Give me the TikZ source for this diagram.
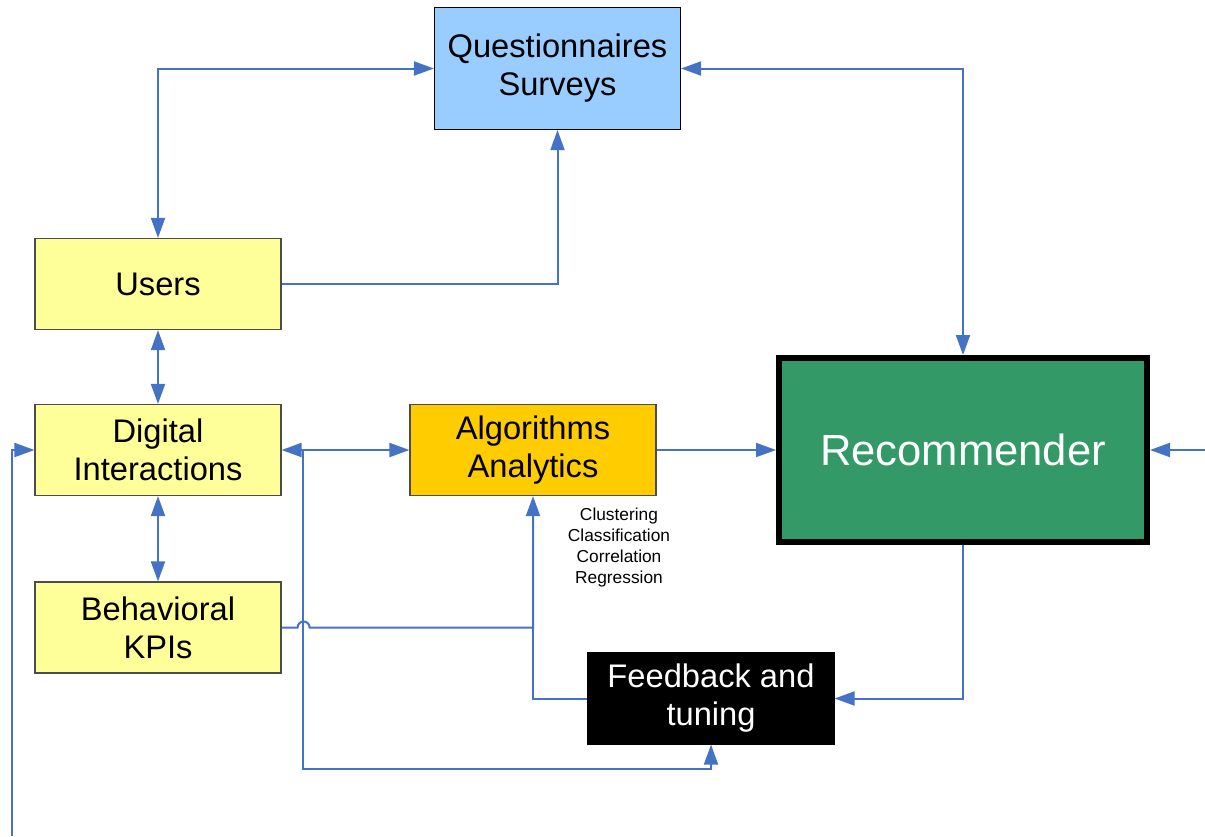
\documentclass[tikz,border=0pt]{standalone}
\usepackage{fontspec}
\setmainfont{Liberation Sans}
\usetikzlibrary{arrows.meta, positioning, calc}
\definecolor{linkblue}{RGB}{68,114,196}
\definecolor{boxyellow}{RGB}{255,255,153}
\definecolor{algoorange}{RGB}{255,204,0}
\definecolor{surveyblue}{RGB}{153,204,255}
\definecolor{recgreen}{RGB}{51,153,102}
\tikzset{
	x=0.75pt, y=-0.75pt,
	>={Triangle[length=15pt, width=10.5pt]},
	box/.style={draw=black!70, line width=0.9pt, fill=boxyellow, inner sep=0pt,
		minimum width=184.5pt, minimum height=68.25pt, align=center,
		font=\fontsize{24.5}{28.5}\selectfont},
	link/.style={draw=linkblue, line width=1.5pt},
	smalltext/.style={align=center, font=\fontsize{13}{15.75}\selectfont},
}
\begin{document}
\begin{tikzpicture}
			\useasboundingbox (0,0) rectangle (1205,836);
			\node[box, fill=surveyblue, draw=black, minimum height=91.5pt] (QUEST) at (557.5,68.5) {Questionnaires\\Surveys};
			\node[box] (USERS) at (158,284) {Users};
			\node[box] (DIGITAL) at (158,450) {Digital\\Interactions};
			\node[box] (KPI) at (158,627.5) {Behavioral\\KPIs};
			\node[box, fill=algoorange] (ALGO) at (533,450) {Algorithms\\Analytics};
			\node[box, fill=recgreen, draw=black, line width=4.5pt, minimum width=276pt, minimum height=138pt, text=white, font=\fontsize{32.7}{38}\selectfont] (REC) at (963,450) {Recommender};
			\node[box, fill=black, draw=black, text=white] (FEEDBACK) at (711,698.5) {Feedback and\\tuning};
			\node[smalltext] (METHODS) at (619,547.5) {Clustering\\Classification\\Correlation\\Regression};
			
			\coordinate (SPLIT) at (303,450);
			\coordinate (EXTIN) at (1205,450);
			\coordinate (EXTFB) at (12,836);
			
			\draw[link, <->] (USERS.north) |- (QUEST.west);
			\draw[link, ->] (USERS.east) -| (QUEST.south);
			\draw[link, <->] (QUEST.east) -| (REC.north);
			\draw[link, <->] (USERS.south) -- (DIGITAL.north);
			\draw[link, <->] (DIGITAL.south) -- (KPI.north);
			\draw[link, <->] (DIGITAL.east) -- (ALGO.west);
			\draw[link, ->] (SPLIT) |- ([yshift=-18pt]FEEDBACK.south) -- (FEEDBACK.south);
			\draw[link, ->] (KPI.east) -- ++(16,0) arc[start angle=180, end angle=360, radius=6] -- (ALGO.south |- KPI.east) -- (ALGO.south);
			\draw[link] (FEEDBACK.west) -| (ALGO.south |- KPI.east);
			\draw[link, ->] (ALGO.east) -- (REC.west);
			\draw[link, ->] (REC.south) |- (FEEDBACK.east);
			\draw[link, ->] (EXTIN) -- (REC.east);
			\draw[link, ->] (EXTFB) |- (DIGITAL.west);
		\end{tikzpicture}
\end{document}
